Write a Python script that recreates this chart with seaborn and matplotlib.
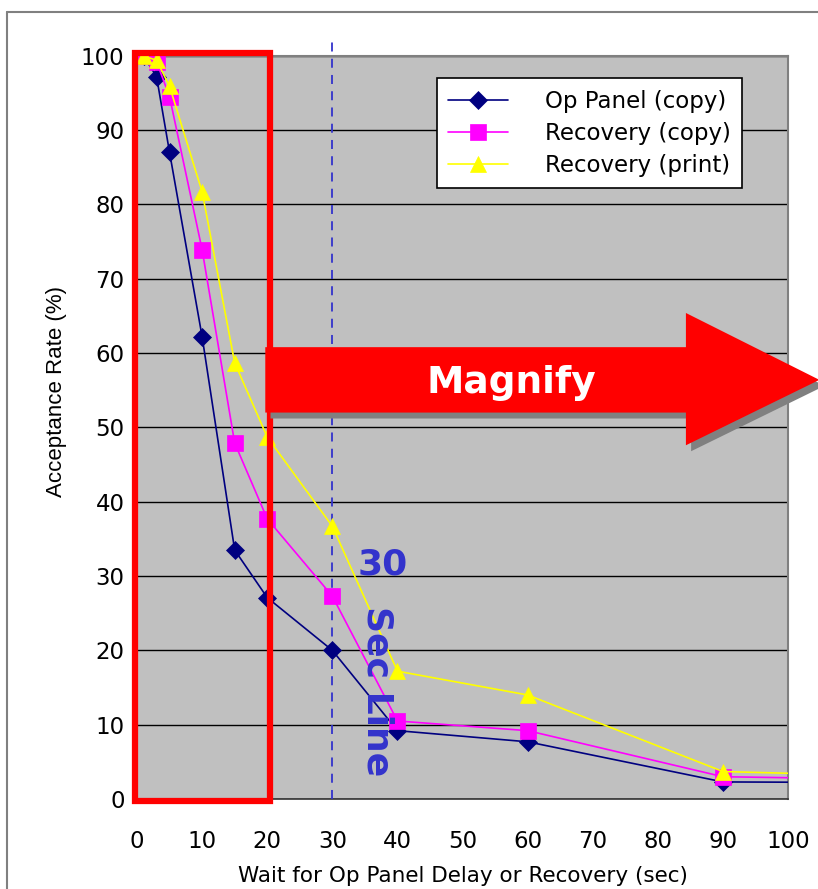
import numpy as np
import pandas as pd
import matplotlib
matplotlib.use('Agg')
import matplotlib.pyplot as plt
import seaborn as sns
from matplotlib.patches import Rectangle, Polygon

# datos
wait_sec = [1, 3, 5, 10, 15, 20, 30, 40, 60, 90, 120]
op_panel_copy = [100, 97.2, 87, 62.2, 33.5, 27.1, 20, 9.2, 7.7, 2.3, 2.2]
recovery_copy = [100, 99.2, 94.5, 73.9, 47.9, 37.7, 27.3, 10.5, 9.2, 3.0, 2.6]
recovery_print = [100, 99.4, 95.9, 81.7, 58.7, 48.7, 36.7, 17.2, 14.0, 3.7, 3.0]

series = ['Op Panel (copy)', 'Recovery (copy)', 'Recovery (print)']
valores = [op_panel_copy, recovery_copy, recovery_print]
colores = ['#000080', '#FF00FF', '#FFFF00']
marcadores = ['D', 's', '^']
tamanos = [9, 11, 12]

y_ticks = list(range(0, 101, 10))
x_ticks = list(range(0, 101, 10))

sns.set_style('white')
plt.rcParams['font.family'] = ['DejaVu Sans']
plt.rcParams['text.color'] = 'black'
plt.rcParams['axes.labelcolor'] = 'black'

fig = plt.figure(figsize=(8.18, 8.89), dpi=100)
ax = fig.add_axes([0.1675, 0.1012, 0.796, 0.836])
ax.set_facecolor('#C0C0C0')

for nombre, ys, c, m, ms in zip(series, valores, colores, marcadores, tamanos):
    df = pd.DataFrame({'x': wait_sec, 'y': ys})
    sns.lineplot(data=df, x='x', y='y', ax=ax, color=c, marker=m, markersize=ms,
                 markeredgecolor=c, markeredgewidth=0.5, linewidth=1.2, label=nombre,
                 zorder=4)

ax.set_xlim(0, 100)
ax.set_ylim(0, 100)
ax.set_xticks(x_ticks)
ax.set_yticks(y_ticks)
ax.yaxis.grid(True, color='black', linewidth=1)
ax.xaxis.grid(False)
ax.set_axisbelow(True)
ax.tick_params(axis='both', direction='in', length=6, width=1, color='#333333',
               labelsize=16.5, labelcolor='black')
ax.tick_params(axis='x', pad=22)
ax.tick_params(axis='y', pad=9)
for s in ['top', 'right']:
    ax.spines[s].set_color('#808080')
    ax.spines[s].set_linewidth(1.5)
for s in ['left', 'bottom']:
    ax.spines[s].set_color('#333333')
    ax.spines[s].set_linewidth(1.2)

ax.set_xlabel('Wait for Op Panel Delay or Recovery (sec)', fontsize=15.5, labelpad=10)
ax.set_ylabel('Acceptance Rate (%)', fontsize=16, family='Liberation Sans')
ax.yaxis.set_label_coords(-0.107, 0.549)

leg = ax.legend(loc='upper right', bbox_to_anchor=(0.929, 0.970), fontsize=16.5,
                frameon=True, fancybox=False, edgecolor='black', framealpha=1,
                handlelength=2.6, borderpad=0.5, labelspacing=0.4, handletextpad=1.6,
                borderaxespad=0)
leg.get_frame().set_linewidth(1.2)
leg.set_zorder(6)

# linea de 30 segundos
ax.plot([30, 30], [0, 102.5], linestyle=(0, (5, 4)), color='#3333CC', linewidth=1.3,
        clip_on=False, zorder=3)
ax.text(37.7, 31.5, '30', color='#3333CC', fontsize=26, fontweight='bold',
        ha='center', va='center', zorder=5)
ax.text(37.0, 14.5, 'Sec Line', color='#3333CC', fontsize=26, fontweight='bold',
        rotation=-90, ha='center', va='center', zorder=5)

# rectangulo rojo
ax.add_patch(Rectangle((-0.3, -0.3), 20.8, 100.7, fill=False, edgecolor='#FF0000',
                       linewidth=4.5, clip_on=False, zorder=7))

# flecha "Magnify"
flecha = [(19.7, 60.8), (84.3, 60.8), (84.3, 65.4), (104.8, 56.4),
          (84.3, 47.6), (84.3, 52.0), (19.7, 52.0)]
sombra = [(x + 0.8, y - 0.8) for x, y in flecha]
ax.add_patch(Polygon(sombra, closed=True, facecolor='#808080', edgecolor='none',
                     clip_on=False, zorder=7))
ax.add_patch(Polygon(flecha, closed=True, facecolor='#FF0000', edgecolor='none',
                     clip_on=False, zorder=8))
ax.text(57.5, 56.0, 'Magnify', color='white', fontsize=27, fontweight='bold',
        ha='center', va='center', zorder=9)

# marco exterior
fig.add_artist(plt.Line2D([0.0086, 0.0086], [0, 0.9865], color='#808080', linewidth=1.5))
fig.add_artist(plt.Line2D([0.0086, 1], [0.9865, 0.9865], color='#808080', linewidth=1.5))

fig.savefig('out.png', dpi=100)
